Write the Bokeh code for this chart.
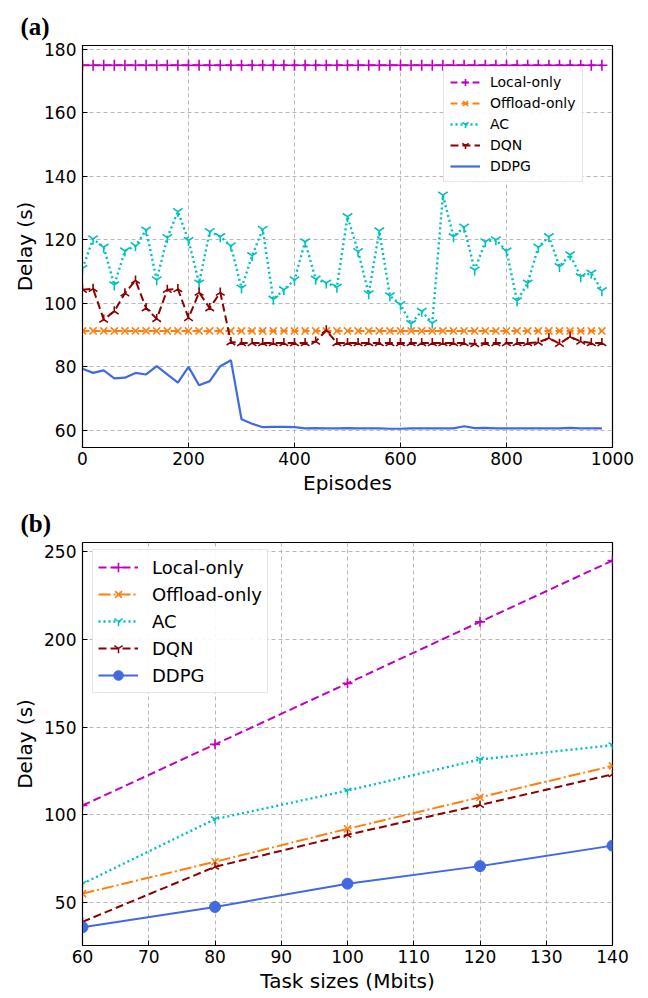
from bokeh.plotting import figure
from bokeh.layouts import column
from bokeh.models import FixedTicker, Range1d
from bokeh.embed import file_html
from bokeh.resources import INLINE
import numpy as np

# ---------------- data: (a) delay vs episodes ----------------
episodes = [0, 20, 40, 60, 80, 100, 120, 140, 160, 180,
            200, 220, 240, 260, 280, 300, 320, 340, 360, 380,
            400, 420, 440, 460, 480, 500, 520, 540, 560, 580,
            600, 620, 640, 660, 680, 700, 720, 740, 760, 780,
            800, 820, 840, 860, 880, 900, 920, 940, 960, 980]
local_a = [175, 175, 175, 175, 175, 175, 175, 175, 175, 175,
           175, 175, 175, 175, 175, 175, 175, 175, 175, 175,
           175, 175, 175, 175, 175, 175, 175, 175, 175, 175,
           175, 175, 175, 175, 175, 175, 175, 175, 175, 175,
           175, 175, 175, 175, 175, 175, 175, 175, 175, 175]
offload_a = [91.3, 91.3, 91.3, 91.3, 91.3, 91.3, 91.3, 91.3, 91.3, 91.3,
             91.3, 91.3, 91.3, 91.3, 91.3, 91.3, 91.3, 91.3, 91.3, 91.3,
             91.3, 91.3, 91.3, 91.3, 91.3, 91.3, 91.3, 91.3, 91.3, 91.3,
             91.3, 91.3, 91.3, 91.3, 91.3, 91.3, 91.3, 91.3, 91.3, 91.3,
             91.3, 91.3, 91.3, 91.3, 91.3, 91.3, 91.3, 91.3, 91.3, 91.3]
ac_a = [111.0, 120.3, 117.7, 105.8, 116.5, 118.1, 123.1, 107.4, 120.7, 128.9,
        119.8, 106.4, 122.6, 121.0, 118.1, 104.8, 115.0, 123.3, 101.3, 104.3,
        107.4, 119.4, 107.6, 106.4, 105.1, 127.3, 116.3, 103.0, 122.8, 102.4,
        99.6, 93.6, 97.5, 93.8, 134.1, 121.0, 124.0, 110.5, 119.4, 120.0,
        116.5, 100.8, 106.4, 117.7, 121.0, 111.6, 115.3, 108.4, 109.5, 104.0]
dqn_a = [104.3, 104.6, 94.9, 97.5, 103.2, 107.2, 98.5, 95.1, 104.3, 104.5,
         95.4, 103.4, 98.5, 103.4, 87.8, 87.5, 87.5, 87.5, 87.5, 87.5,
         87.5, 87.5, 88.0, 91.5, 87.5, 87.5, 87.5, 87.5, 87.5, 87.5,
         87.5, 87.5, 87.5, 87.5, 87.5, 87.5, 87.5, 87.2, 87.5, 87.5,
         87.5, 87.5, 87.5, 87.7, 89.1, 87.3, 89.5, 88.0, 87.5, 87.5]
ddpg_a = [79.4, 78.1, 78.9, 76.4, 76.6, 78.1, 77.6, 80.2, 77.6, 75.0,
          80.0, 74.2, 75.5, 80.2, 82.1, 63.5, 62.1, 61.0, 61.1, 61.1,
          61.0, 60.6, 60.7, 60.6, 60.6, 60.7, 60.6, 60.6, 60.6, 60.5,
          60.5, 60.6, 60.6, 60.6, 60.6, 60.6, 61.3, 60.7, 60.8, 60.6,
          60.6, 60.6, 60.6, 60.6, 60.6, 60.6, 60.8, 60.6, 60.6, 60.6]

# ---------------- data: (b) delay vs task size ----------------
sizes = [60, 80, 100, 120, 140]
local_b = [105.2, 140.1, 174.9, 210.0, 245.0]
offload_b = [54.9, 73.1, 91.9, 109.9, 127.8]
ac_b = [60.6, 97.4, 113.7, 131.5, 139.6]
dqn_b = [38.8, 70.2, 88.5, 105.5, 123.0]
ddpg_b = [35.7, 47.3, 60.6, 70.6, 82.3]

xticks_a = [0, 200, 400, 600, 800, 1000]
yticks_a = [60, 80, 100, 120, 140, 160, 180]
xticks_b = [60, 70, 80, 90, 100, 110, 120, 130, 140]
yticks_b = [50, 100, 150, 200, 250]

MAG = "#bf00bf"
ORA = "#ff7f0e"
CYA = "#00bfbf"
DRED = "#8b0000"
BLUE = "#4169e1"
FONT = "DejaVu Sans"


def style(p, xt, yt, title):
    p.xaxis.ticker = FixedTicker(ticks=xt)
    p.yaxis.ticker = FixedTicker(ticks=yt)
    for ax in (p.xaxis[0], p.yaxis[0]):
        ax.major_tick_in = 5
        ax.major_tick_out = 0
        ax.minor_tick_in = 0
        ax.minor_tick_out = 0
        ax.major_tick_line_color = "black"
        ax.axis_line_color = "black"
        ax.major_label_text_font = FONT
        ax.major_label_text_font_size = "17px"
        ax.major_label_text_color = "black"
        ax.axis_label_text_font = FONT
        ax.axis_label_text_font_size = "20px"
        ax.axis_label_text_font_style = "normal"
        ax.axis_label_text_color = "black"
    p.xaxis[0].major_label_standoff = 4
    p.xaxis[0].axis_label_standoff = 3
    p.yaxis[0].major_label_standoff = 6
    p.yaxis[0].axis_label_standoff = 4
    p.grid.grid_line_dash = "4 3"
    p.grid.grid_line_color = "#b8b8b8"
    p.grid.grid_line_width = 1
    p.outline_line_color = "black"
    p.outline_line_alpha = 1
    p.outline_line_width = 1.2
    p.title.text = title
    p.title.align = "left"
    p.title.offset = -62
    p.title.text_font = "Liberation Serif"
    p.title.text_font_size = "25px"
    p.title.text_font_style = "bold"
    p.title.text_color = "black"
    p.title.standoff = 12


# ---------------- figure (a) ----------------
p1 = figure(width=648, height=500, output_backend="svg", toolbar_location=None,
            x_range=Range1d(0, 1000), y_range=Range1d(54.6, 181.2),
            min_border_left=82, min_border_right=36, min_border_top=45, min_border_bottom=53,
            x_axis_label="Episodes", y_axis_label="Delay (s)")
style(p1, xticks_a, yticks_a, "(a)")

p1.line(episodes, local_a, color=MAG, line_width=2, line_dash="7 4", legend_label="Local-only")
p1.scatter(episodes, local_a, marker="cross", size=11, line_color=MAG, line_width=1.6, legend_label="Local-only")
p1.line(episodes, offload_a, color=ORA, line_width=2, line_dash="7 4", legend_label="Offload-only")
p1.scatter(episodes, offload_a, marker="x", size=10, line_color=ORA, line_width=1.6, legend_label="Offload-only")
p1.line(episodes, ac_a, color=CYA, line_width=2.4, line_dash="2 3", legend_label="AC")
p1.scatter(episodes, ac_a, marker="y", size=11, line_color=CYA, line_width=1.6, legend_label="AC")
p1.line(episodes, dqn_a, color=DRED, line_width=2, line_dash="8 4", legend_label="DQN")
p1.scatter(episodes, dqn_a, marker="y", angle=np.pi, size=10, line_color=DRED, line_width=1.6, legend_label="DQN")
p1.line(episodes, ddpg_a, color=BLUE, line_width=2.2, legend_label="DDPG")

lg1 = p1.legend[0]
lg1.location = (361, 265)
lg1.label_text_font = FONT
lg1.label_text_font_size = "14px"
lg1.label_text_color = "black"
lg1.glyph_width = 30
lg1.glyph_height = 18
lg1.label_height = 18
lg1.label_standoff = 10
lg1.spacing = 3
lg1.padding = 6
lg1.margin = 0
lg1.border_line_color = "#cccccc"
lg1.border_line_width = 1
lg1.background_fill_alpha = 0.9

# ---------------- figure (b) ----------------
p2 = figure(width=648, height=498, output_backend="svg", toolbar_location=None,
            x_range=Range1d(60, 140), y_range=Range1d(25.3, 255.3),
            min_border_left=82, min_border_right=26, min_border_top=42, min_border_bottom=53,
            x_axis_label="Task sizes (Mbits)", y_axis_label="Delay (s)")
style(p2, xticks_b, yticks_b, "(b)")

p2.line(sizes, local_b, color=MAG, line_width=2, line_dash="8 4", legend_label="Local-only")
p2.scatter(sizes, local_b, marker="cross", size=10, line_color=MAG, line_width=1.6, legend_label="Local-only")
p2.line(sizes, offload_b, color=ORA, line_width=2, line_dash="12 3 2 3", legend_label="Offload-only")
p2.scatter(sizes, offload_b, marker="x", size=10, line_color=ORA, line_width=1.6, legend_label="Offload-only")
p2.line(sizes, ac_b, color=CYA, line_width=2.4, line_dash="2 3", legend_label="AC")
p2.scatter(sizes, ac_b, marker="y", size=9, line_color=CYA, line_width=1.5, legend_label="AC")
p2.line(sizes, dqn_b, color=DRED, line_width=2, line_dash="8 4", legend_label="DQN")
p2.scatter(sizes, dqn_b, marker="y", angle=np.pi, size=9, line_color=DRED, line_width=1.5, legend_label="DQN")
p2.line(sizes, ddpg_b, color=BLUE, line_width=2, legend_label="DDPG")
p2.scatter(sizes, ddpg_b, marker="circle", size=11, fill_color=BLUE, line_color=BLUE, legend_label="DDPG")

lg2 = p2.legend[0]
lg2.location = (10, 252)
lg2.label_text_font = FONT
lg2.label_text_font_size = "18px"
lg2.label_text_color = "black"
lg2.glyph_width = 40
lg2.glyph_height = 24
lg2.label_height = 24
lg2.label_standoff = 14
lg2.spacing = 3
lg2.padding = 5
lg2.margin = 0
lg2.border_line_color = "#cccccc"
lg2.border_line_width = 1
lg2.background_fill_alpha = 0.9

layout = column(p1, p2, spacing=0)
open("out.html", "w").write(file_html(layout, INLINE))
